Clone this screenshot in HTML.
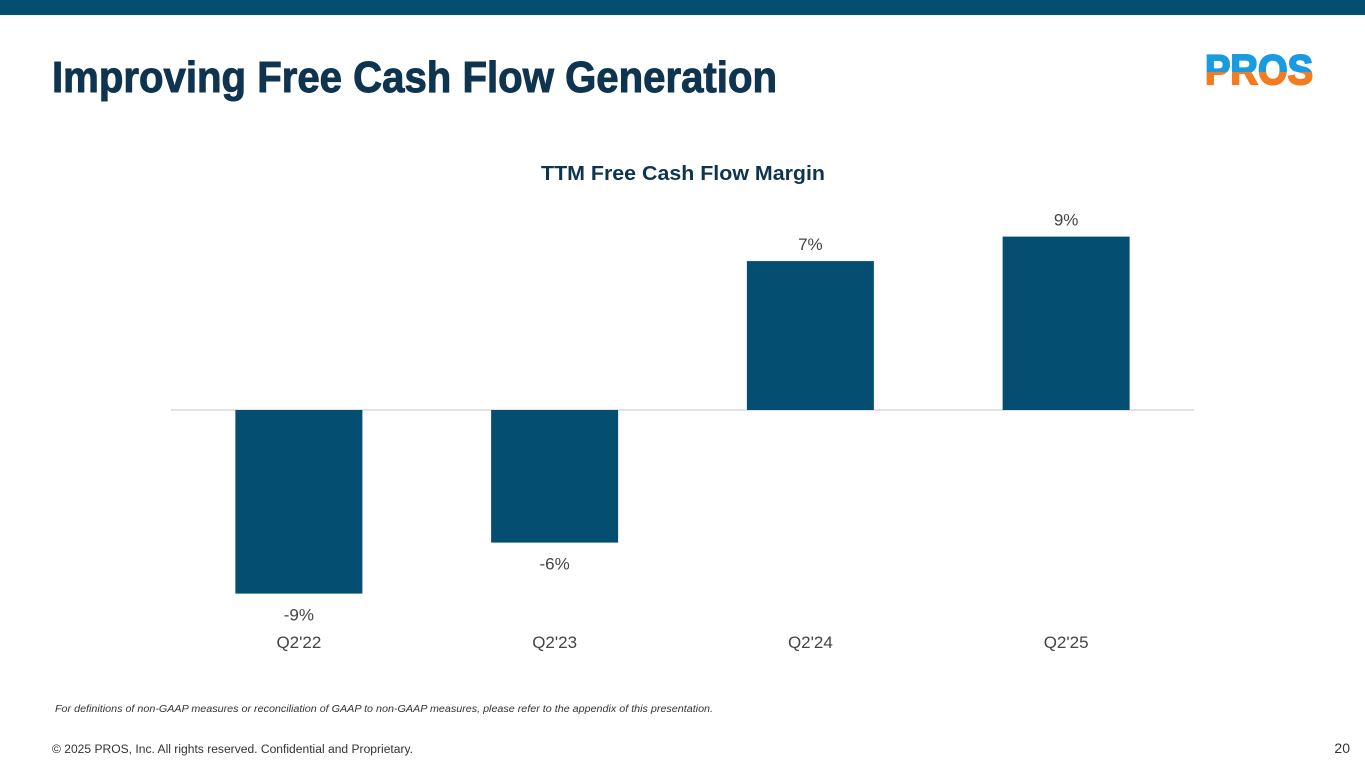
<!DOCTYPE html>
<html><head><meta charset="utf-8"><style>
body{margin:0;width:1365px;height:768px;overflow:hidden;background:#fff;font-family:"Liberation Sans",sans-serif}
</style></head><body>
<svg id="s" width="1365" height="768" viewBox="0 0 1365 768">
<defs><linearGradient id="lg" x1="0" y1="0" x2="0" y2="1"><stop offset="0.55" stop-color="#1a9be0"/><stop offset="0.55" stop-color="#f47b20"/></linearGradient></defs>
<rect x="0" y="0" width="1365" height="15" fill="#044e71"/>
<text x="52" y="92" font-size="44" font-weight="bold" fill="#0f3450" stroke="#0f3450" stroke-width="1" textLength="725" lengthAdjust="spacingAndGlyphs">Improving Free Cash Flow Generation</text>
<text x="1205" y="84" font-size="42" font-weight="900" fill="url(#lg)" stroke="url(#lg)" stroke-width="2" textLength="108" lengthAdjust="spacingAndGlyphs">PROS</text>
<text x="541" y="180" font-size="20" font-weight="bold" fill="#0f3450" textLength="284" lengthAdjust="spacingAndGlyphs">TTM Free Cash Flow Margin</text>
<g id="chart"></g>
<text x="55" y="712" font-size="10" font-style="italic" fill="#333" textLength="658" lengthAdjust="spacingAndGlyphs">For definitions of non-GAAP measures or reconciliation of GAAP to non-GAAP measures, please refer to the appendix of this presentation.</text>
<text x="52" y="753" font-size="11.5" fill="#333" textLength="361" lengthAdjust="spacingAndGlyphs">© 2025 PROS, Inc. All rights reserved. Confidential and Proprietary.</text>
<text x="1350" y="753" font-size="14" fill="#333" text-anchor="end">20</text>
</svg>
<script>
const categories=["Q2'22","Q2'23","Q2'24","Q2'25"];
const values=[-9.0,-6.5,7.3,8.5];
const valueLabels=["-9%","-6%","7%","9%"];
const ns="http://www.w3.org/2000/svg";
const g=document.getElementById('chart');
const zeroY=410,pxPer=20.4,left=171,right=1194,barW=127;
const y=v=>zeroY-v*pxPer;
const step=(right-left)/categories.length;
const xc=i=>left+step*(i+0.5);
function mk(t,a){const e=document.createElementNS(ns,t);for(const k in a)e.setAttribute(k,a[k]);g.appendChild(e);return e;}
const ax=mk('line',{x1:left,x2:right,y1:zeroY,y2:zeroY,stroke:'#d9d9d9','stroke-width':1.5});


categories.forEach((c,i)=>{
  const v=values[i];
  const r=mk('rect',{x:xc(i)-barW/2,y:Math.min(y(v),zeroY),width:barW,height:Math.abs(y(v)-zeroY),fill:'#044e71'});
  
  
  const ly=v>=0?y(v)-11:y(v)+27;
  const l=mk('text',{x:xc(i),y:ly,'font-size':17,fill:'#444','text-anchor':'middle'});
  l.textContent=valueLabels[i];
  
  
  const cl=mk('text',{x:xc(i),y:648,'font-size':17,fill:'#444','text-anchor':'middle'});
  cl.textContent=c;
  
  
});
</script>
</body></html>
